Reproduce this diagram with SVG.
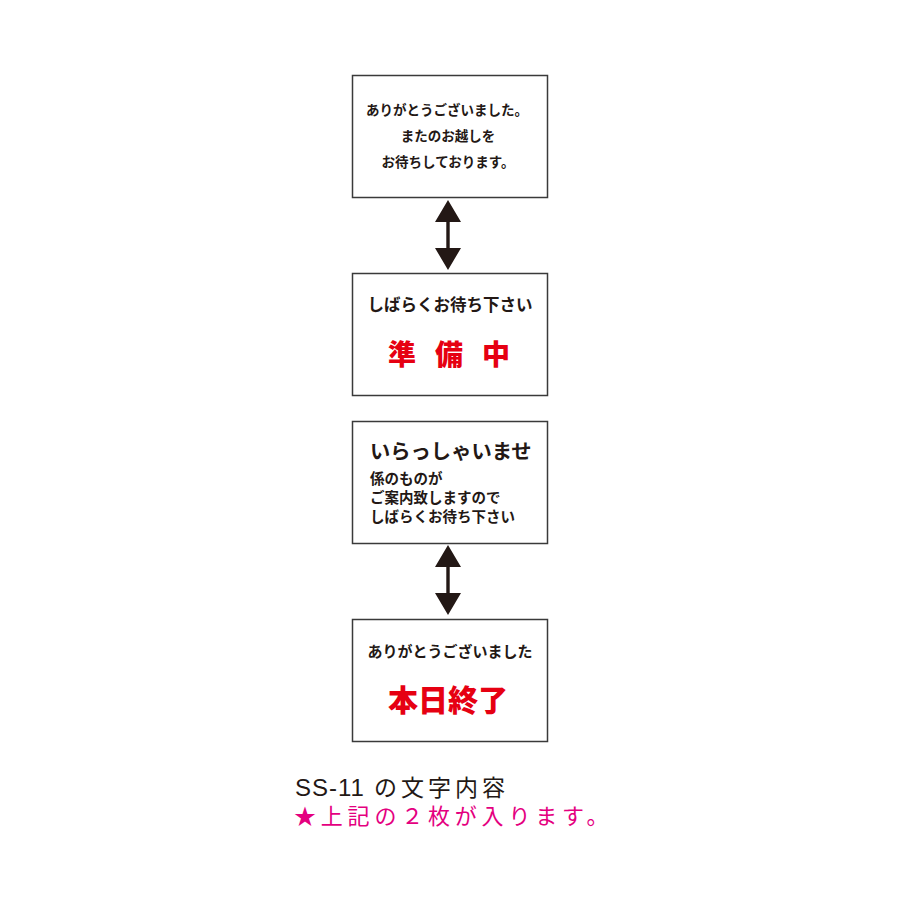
<svg xmlns="http://www.w3.org/2000/svg" width="900" height="900" viewBox="0 0 900 900">
<style>
.box{fill:#fff;stroke:#3a3a3a;stroke-width:1.5}
.t{font-family:"Noto Sans CJK JP","Noto Sans",sans-serif;font-weight:bold;fill:#231815}
.r{font-family:"Noto Sans CJK JP",sans-serif;font-weight:900;fill:#e60012}
.arr{fill:#231815}
.cap{font-family:"Liberation Sans","Noto Sans CJK JP",sans-serif;font-size:24px;fill:#231815}
.jp{font-family:"Noto Sans CJK JP",sans-serif;font-size:23px}
.pk{font-family:"Noto Sans CJK JP",sans-serif;font-size:22px;fill:#e4007f}
</style>
<rect width="900" height="900" fill="#fff"/>
<g id="node1">
<rect class="box" x="352.5" y="75.5" width="195" height="122"/>
<text class="t" font-size="13.5" text-anchor="middle" x="447" y="115">ありがとうございました。</text>
<text class="t" font-size="13.5" text-anchor="middle" x="448" y="141">またのお越しを</text>
<text class="t" font-size="13.5" text-anchor="middle" x="448" y="167">お待ちしております。</text>
</g>
<g id="node2">
<rect class="box" x="352.5" y="273.5" width="195" height="122"/>
<text class="t" font-size="16.5" text-anchor="middle" x="450" y="311">しばらくお待ち下さい</text>
<text class="r" font-size="28" x="388" y="365" letter-spacing="19">準備中</text>
</g>
<g id="node3">
<rect class="box" x="352.5" y="421.5" width="195" height="122"/>
<text class="t" font-size="20.3" x="370" y="459">いらっしゃいませ</text>
<text class="t" font-size="14.5" x="370" y="484">係のものが</text>
<text class="t" font-size="14.5" x="370" y="503">ご案内致しますので</text>
<text class="t" font-size="14.5" x="370" y="522">しばらくお待ち下さい</text>
</g>
<g id="node4">
<rect class="box" x="352.5" y="619.5" width="195" height="122"/>
<text class="t" font-size="15" text-anchor="middle" x="450" y="657">ありがとうございました</text>
<text class="r" font-size="30" text-anchor="middle" x="448" y="711">本日終了</text>
</g>
<g id="connectors">
<path class="arr" d="M448 200 L461 222 L449.7 222 L449.7 248 L461 248 L448 270 L435 248 L446.3 248 L446.3 222 L435 222 Z"/>
<path class="arr" d="M448 545 L461 567 L449.7 567 L449.7 593 L461 593 L448 615 L435 593 L446.3 593 L446.3 567 L435 567 Z"/>
</g>
<g id="caption">
<text class="cap" x="295" y="796" letter-spacing="1">SS-11<tspan class="jp" x="374" letter-spacing="4">の文字内容</tspan></text>
<text class="pk" x="294" y="824" letter-spacing="4.8">★上記の２枚が入ります。</text>
</g>
</svg>
